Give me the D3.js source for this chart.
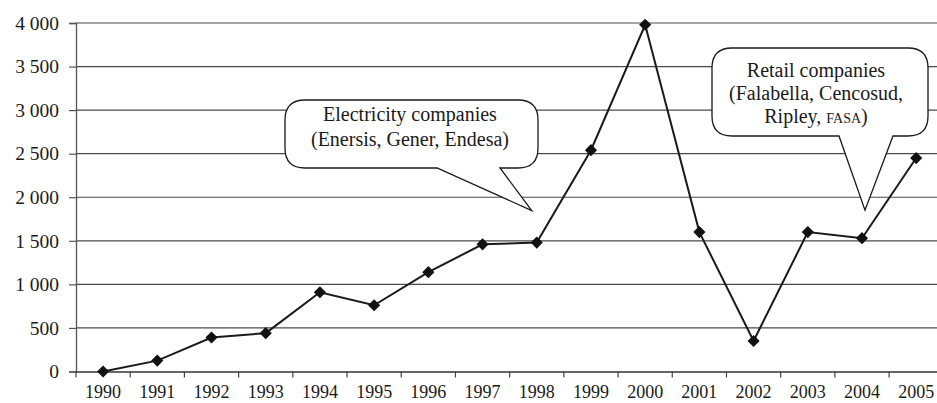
<!DOCTYPE html>
<html><head><meta charset="utf-8">
<script src="https://cdn.jsdelivr.net/npm/d3@7"></script>
<style>body{margin:0;background:#fff}svg{display:block}</style>
</head><body><svg id="c" width="937" height="403"></svg>
<script>
const years = ["1990","1991","1992","1993","1994","1995","1996","1997","1998","1999","2000","2001","2002","2003","2004","2005"];
const values = [0,125,390,440,910,760,1140,1460,1480,2540,3980,1600,350,1600,1530,2450];
const yTicks = [0,500,1000,1500,2000,2500,3000,3500,4000];
const yTickLabels = ["0","500","1 000","1 500","2 000","2 500","3 000","3 500","4 000"];
const calloutElec = ["Electricity companies","(Enersis, Gener, Endesa)"];
const calloutRetail = ["Retail companies","(Falabella, Cencosud,","Ripley, "];

(function(){
const FONT = "'Liberation Serif'";
const svg = d3.select("#c");
const mL = 76, mR = 943.3, mT = 23, mB = 371.5;
const x = d3.scaleBand().domain(years).range([mL,mR]).padding(0);
const y = d3.scaleLinear().domain([0,4000]).range([mB,mT]);

svg.append("g").selectAll("line").data(yTicks.filter(d=>d>0)).join("line")
  .attr("x1",mL).attr("x2",937).attr("y1",d=>y(d)).attr("y2",d=>y(d))
  .attr("stroke","#4a4a4a").attr("stroke-width",1.2);

const ya = svg.append("g").attr("transform",`translate(${mL},0)`)
  .call(d3.axisLeft(y).tickValues(yTicks).tickSize(7).tickPadding(10).tickFormat((d,i)=>yTickLabels[i]));
ya.select(".domain").attr("stroke","#555").attr("stroke-width",1.3);
ya.selectAll(".tick line").attr("stroke","#555").attr("stroke-width",1.2);
ya.selectAll("text").attr("font-size",19.5).attr("fill","#1a1a1a").style("font-family",FONT);

const xa = svg.append("g").attr("transform",`translate(0,${mB})`)
  .call(d3.axisBottom(x).tickSize(0).tickPadding(14));
xa.select(".domain").attr("stroke","#333").attr("stroke-width",1.3);
xa.selectAll("text").attr("font-size",18).attr("fill","#1a1a1a").style("font-family",FONT);
xa.append("g").selectAll("line").data(years).join("line")
  .attr("x1",d=>x(d)).attr("x2",d=>x(d)).attr("y1",0).attr("y2",6)
  .attr("stroke","#444").attr("stroke-width",1.2);

function callout(x0,y0,x1,y1,r,ta,tb,tip){
  const p = d3.path();
  p.moveTo(x0+r,y0);
  p.lineTo(x1-r,y0);
  p.quadraticCurveTo(x1,y0,x1,y0+r);
  p.lineTo(x1,y1-r);
  p.quadraticCurveTo(x1,y1,x1-r,y1);
  p.lineTo(tb,y1);
  p.lineTo(tip[0],tip[1]);
  p.lineTo(ta,y1);
  p.lineTo(x0+r,y1);
  p.quadraticCurveTo(x0,y1,x0,y1-r);
  p.lineTo(x0,y0+r);
  p.quadraticCurveTo(x0,y0,x0+r,y0);
  p.closePath();
  return p.toString();
}

const line = d3.line().x((d,i)=>x(years[i])+x.bandwidth()/2).y(d=>y(d));
svg.append("path").datum(values).attr("d",line).attr("fill","none").attr("stroke","#1a1a1a").attr("stroke-width",2);

const eTip = [x("1998")+x.bandwidth()/2-5, y(values[8])-32];
svg.append("path").attr("d",callout(285,100,538,168,20,437,500,eTip))
  .attr("fill","#fff").attr("stroke","#1a1a1a").attr("stroke-width",1.3);
const rTip = [x("2004")+x.bandwidth()/2+3, y(values[14])-28];
svg.append("path").attr("d",callout(712,48,928,136,20,839,893,rTip))
  .attr("fill","#fff").attr("stroke","#1a1a1a").attr("stroke-width",1.3);

svg.append("g").selectAll("text").data(calloutElec).join("text")
  .attr("x",410).attr("y",(d,i)=>121+i*25).attr("text-anchor","middle")
  .attr("font-size",20).attr("fill","#1a1a1a").style("font-family",FONT).text(d=>d);
const rt = svg.append("g");
rt.selectAll("text").data(calloutRetail.slice(0,2)).join("text")
  .attr("x",816).attr("y",(d,i)=>77+i*23).attr("text-anchor","middle")
  .attr("font-size",20).attr("fill","#1a1a1a").style("font-family",FONT).text(d=>d);
const last = rt.append("text").attr("x",816).attr("y",123).attr("text-anchor","middle")
  .attr("font-size",20).attr("fill","#1a1a1a").style("font-family",FONT);
last.append("tspan").text(calloutRetail[2]);
last.append("tspan").attr("font-size",14).text("FASA");
last.append("tspan").text(")");

svg.append("g").selectAll("path").data(values).join("path")
  .attr("d",d3.symbol(d3.symbolSquare,74))
  .attr("transform",(d,i)=>`translate(${x(years[i])+x.bandwidth()/2},${y(d)}) rotate(45)`)
  .attr("fill","#111");
})();
</script></body></html>
